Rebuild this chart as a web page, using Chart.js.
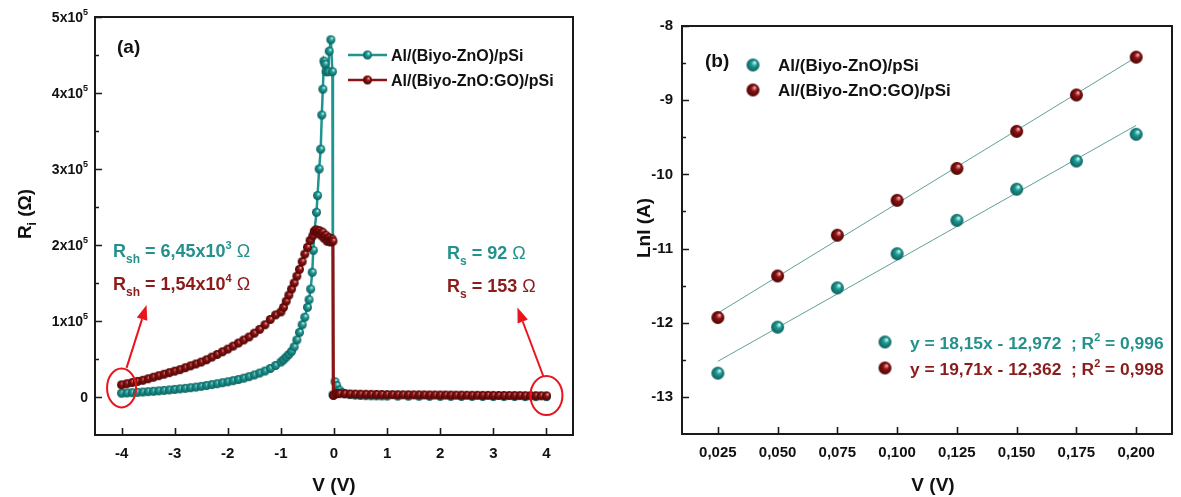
<!DOCTYPE html>
<html><head><meta charset="utf-8">
<script src="https://cdn.jsdelivr.net/npm/chart.js@4.4.0/dist/chart.umd.min.js"></script>
<style>
html,body{margin:0;padding:0;background:#fff;}
#wrap{position:relative;width:1181px;height:497px;overflow:hidden;background:#fff;}
#ca{position:absolute;left:0;top:0;}
#cb{position:absolute;left:590px;top:0;}
</style></head><body>
<div id="wrap"><canvas id="ca" width="590" height="497"></canvas><canvas id="cb" width="591" height="497"></canvas></div>
<script>
// ---------- DATA ----------
const seriesNames = ['Al/(Biyo-ZnO)/pSi', 'Al/(Biyo-ZnO:GO)/pSi'];

// Panel (a): R_i (Ohm) vs V (V)
const xTicksA = [-4,-3,-2,-1,0,1,2,3,4];
const yTicksA = [0,100000,200000,300000,400000,500000];
const vTealA = [-4.0,-3.9,-3.8,-3.7,-3.6,-3.5,-3.4,-3.3,-3.2,-3.1,-3.0,-2.9,-2.8,-2.7,-2.6,-2.5,-2.4,-2.3,-2.2,-2.1,-2.0,-1.9,-1.8,-1.7,-1.6,-1.5,-1.4,-1.3,-1.2,-1.1,-1.0,-0.95,-0.9,-0.85,-0.8,-0.75,-0.7,-0.65,-0.6,-0.55,-0.5,-0.47,-0.44,-0.41,-0.39,-0.37,-0.33,-0.31,-0.28,-0.25,-0.23,-0.21,-0.19,-0.17,-0.15,-0.11,-0.09,-0.06,-0.03,-0.02,0.02,0.05,0.1,0.15,0.2,0.3,0.4,0.5,0.6,0.7,0.8,0.9,1.0,1.2,1.4,1.6,1.8,2.0,2.2,2.4,2.6,2.8,3.0,3.2,3.4,3.6,3.8,4.0];
const rTealA = [5000,5300,5700,6100,6500,7000,7500,8100,8700,9300,10000,10700,11400,12200,13000,14000,15100,16300,17500,18800,20000,21500,23000,24800,26800,29000,31500,34200,37500,41500,46000,49000,52500,56000,60000,66000,75000,85000,95000,105000,118000,128000,142000,164000,193000,217000,243000,265000,300000,326000,371000,405000,442000,438000,428000,428000,455000,470000,428000,3000,20000,15000,9000,6000,4500,3200,2500,2000,1800,1600,1500,1400,1300,1200,1100,1000,950,900,850,800,750,700,650,600,580,560,540,520];

const vRedA = [-4.0,-3.9,-3.8,-3.7,-3.6,-3.5,-3.4,-3.3,-3.2,-3.1,-3.0,-2.9,-2.8,-2.7,-2.6,-2.5,-2.4,-2.3,-2.2,-2.1,-2.0,-1.9,-1.8,-1.7,-1.6,-1.5,-1.4,-1.3,-1.2,-1.1,-1.0,-0.95,-0.9,-0.85,-0.8,-0.75,-0.7,-0.65,-0.6,-0.55,-0.5,-0.45,-0.4,-0.37,-0.34,-0.31,-0.28,-0.25,-0.22,-0.19,-0.16,-0.13,-0.1,-0.07,-0.04,-0.02,-0.01,0.05,0.1,0.2,0.3,0.4,0.5,0.6,0.7,0.8,0.9,1.0,1.1,1.2,1.3,1.4,1.5,1.6,1.7,1.8,1.9,2.0,2.1,2.2,2.3,2.4,2.5,2.6,2.7,2.8,2.9,3.0,3.1,3.2,3.3,3.4,3.5,3.6,3.7,3.8,3.9,4.0];
const rRedA = [16000,17500,19000,20500,22000,24000,26000,28000,30000,32000,34000,36000,38500,41000,43500,46000,49000,52500,56000,59500,63000,67000,71000,75000,79000,84000,89000,95000,102000,108000,112000,118000,126000,134000,142000,150000,159000,168000,178000,188000,197000,206000,212000,218000,220000,216000,219000,213000,217000,209000,213000,205000,210000,204000,208000,205000,2000,4500,4400,4200,4000,3800,3700,3600,3500,3400,3300,3200,3100,3000,2950,2900,2850,2800,2750,2700,2650,2600,2550,2500,2450,2400,2350,2300,2250,2200,2150,2100,2050,2000,1950,1900,1850,1800,1700,1650,1600,1500];

// Panel (b): LnI (A) vs V (V)
const vB = [0.025,0.050,0.075,0.100,0.125,0.150,0.175,0.200];
const lnTealB = [-12.68,-12.06,-11.53,-11.07,-10.62,-10.20,-9.82,-9.46];
const lnRedB  = [-11.93,-11.37,-10.82,-10.35,-9.92,-9.42,-8.93,-8.42];
const fitVB = [0.025, 0.200];
const fitTealB = [-12.52, -9.34];
const fitRedB  = [-11.87, -8.42];
const eqTexts = ['y = 18,15x - 12,972  ; R', 'y = 19,71x - 12,362  ; R'];
const r2Texts = [' = 0,996', ' = 0,998'];

// ---------- STYLE ----------
const FF = "'Liberation Sans', Arial, sans-serif";
const TEAL = '#1f9590', RED = '#8b1414', TEAL_T = '#25918d', RED_T = '#8c1b1b', ARROW = '#e8161c';

function ball(r, mid, light, dark){
  const s = Math.ceil(2*r+2), cv = document.createElement('canvas');
  cv.width = cv.height = s;
  const g = cv.getContext('2d'), c = s/2;
  const gr = g.createRadialGradient(c+r*0.3, c-r*0.4, r*0.05, c, c, r);
  gr.addColorStop(0, light); gr.addColorStop(0.4, mid); gr.addColorStop(1, dark);
  g.fillStyle = gr; g.beginPath(); g.arc(c, c, r, 0, Math.PI*2); g.fill();
  return cv;
}
const ballTealA = ball(4.5, '#1e9a95', '#c8f4f0', '#0b5d5a');
const ballRedA  = ball(4.5, '#8e1212', '#f3a8a8', '#4a0404');
const ballTealB = ball(6.5, '#1e9a95', '#d6faf6', '#0b5d5a');
const ballRedB  = ball(6.5, '#8e1212', '#f6b8b8', '#4a0404');

function pts(xs, ys){ return xs.map((x,i)=>({x:x, y:ys[i]})); }

function rich(ctx, parts, x, y, align){
  let w = 0;
  parts.forEach(p=>{ ctx.font = p.f; p.w = ctx.measureText(p.t).width; w += p.w; });
  let cx = align==='right' ? x-w : align==='center' ? x-w/2 : x;
  ctx.textAlign = 'left'; ctx.textBaseline = 'alphabetic';
  parts.forEach(p=>{ ctx.font = p.f; ctx.fillStyle = p.c || '#111'; ctx.fillText(p.t, cx, y + (p.dy||0)); cx += p.w; });
  return w;
}
function frameAndTicks(ch, yMinor){
  const ctx = ch.ctx, a = ch.chartArea, xs = ch.scales.x, ys = ch.scales.y;
  ctx.save();
  ctx.strokeStyle = '#1a1a1a'; ctx.lineWidth = 2;
  ctx.strokeRect(a.left, a.top, a.right-a.left, a.bottom-a.top);
  ctx.lineWidth = 1.6;
  ctx.beginPath();
  xs.ticks.forEach(t=>{ const p = Math.round(xs.getPixelForValue(t.value))+0.5; ctx.moveTo(p, a.bottom); ctx.lineTo(p, a.bottom-7); });
  const yt = ys.ticks.map(t=>t.value);
  yt.forEach(v=>{ const p = Math.round(ys.getPixelForValue(v))+0.5; ctx.moveTo(a.left, p); ctx.lineTo(a.left+7, p); });
  if (yMinor){
    const st = yt[1]-yt[0];
    const minors = [yt[0]-st/2].concat(yt.map(v=>v+st/2));
    minors.forEach(v=>{ if (v>ys.min && v<ys.max){ const p = Math.round(ys.getPixelForValue(v))+0.5; ctx.moveTo(a.left, p); ctx.lineTo(a.left+4, p); } });
  }
  ctx.stroke();
  ctx.restore();
}
function arrow(ctx, x1, y1, x2, y2){
  const ang = Math.atan2(y2-y1, x2-x1), L = 15, W = 5.5;
  const bx = x2 - L*Math.cos(ang), by = y2 - L*Math.sin(ang);
  ctx.beginPath(); ctx.moveTo(x1, y1); ctx.lineTo(bx, by); ctx.stroke();
  ctx.beginPath(); ctx.moveTo(x2, y2);
  ctx.lineTo(bx + W*Math.sin(ang), by - W*Math.cos(ang));
  ctx.lineTo(bx - W*Math.sin(ang), by + W*Math.cos(ang));
  ctx.closePath(); ctx.fill();
}

// ---------- PANEL (a) ----------
const plugA = {
  id: 'plugA',
  afterDatasetsDraw(ch){
    const ctx = ch.ctx, a = ch.chartArea, xs = ch.scales.x, ys = ch.scales.y;
    frameAndTicks(ch, true);
    ctx.save();
    // y tick labels with superscripts
    ys.ticks.forEach(t=>{
      const p = ys.getPixelForValue(t.value);
      if (t.value === 0) rich(ctx, [{t:'0', f:'bold 14px '+FF}], a.left-7, p+5, 'right');
      else rich(ctx, [{t:Math.round(t.value/1e5)+'x10', f:'bold 14px '+FF}, {t:'5', f:'bold 9px '+FF, dy:-7}], a.left-7, p+5, 'right');
    });
    // axis titles
    rich(ctx, [{t:'V (V)', f:'bold 19px '+FF}], (a.left+a.right)/2, 491, 'center');
    ctx.save(); ctx.translate(31, 214); ctx.rotate(-Math.PI/2);
    rich(ctx, [{t:'R', f:'bold 19px '+FF}, {t:'i', f:'bold 12px '+FF, dy:5}, {t:' (\u03A9)', f:'bold 19px '+FF}], 0, 0, 'center');
    ctx.restore();
    // panel label
    rich(ctx, [{t:'(a)', f:'bold 19px '+FF}], a.left+22, 53, 'left');
    // legend
    const lg = [[TEAL, ballTealA, 0], [RED, ballRedA, 1]];
    lg.forEach((g,i)=>{
      const y = 55 + i*25, x0 = a.left+253;
      ctx.strokeStyle = g[0]; ctx.lineWidth = 2.5;
      ctx.beginPath(); ctx.moveTo(x0, y); ctx.lineTo(x0+39, y); ctx.stroke();
      ctx.drawImage(g[1], x0+19.5-g[1].width/2, y-g[1].height/2);
      rich(ctx, [{t:seriesNames[g[2]], f:'bold 16px '+FF}], x0+43, y+6, 'left');
    });
    // annotations
    const big = 'bold 18px '+FF, sub = 'bold 12px '+FF, sup = 'bold 11px '+FF, om = '18px '+FF;
    rich(ctx, [{t:'R',f:big,c:TEAL_T},{t:'sh',f:sub,c:TEAL_T,dy:6},{t:' = 6,45x10',f:big,c:TEAL_T},{t:'3',f:sup,c:TEAL_T,dy:-8},{t:' \u03A9',f:om,c:TEAL_T}], a.left+18, 257, 'left');
    rich(ctx, [{t:'R',f:big,c:RED_T},{t:'sh',f:sub,c:RED_T,dy:6},{t:' = 1,54x10',f:big,c:RED_T},{t:'4',f:sup,c:RED_T,dy:-8},{t:' \u03A9',f:om,c:RED_T}], a.left+18, 290, 'left');
    rich(ctx, [{t:'R',f:big,c:TEAL_T},{t:'s',f:sub,c:TEAL_T,dy:6},{t:' = 92 ',f:big,c:TEAL_T},{t:'\u03A9',f:om,c:TEAL_T}], a.left+352, 259, 'left');
    rich(ctx, [{t:'R',f:big,c:RED_T},{t:'s',f:sub,c:RED_T,dy:6},{t:' = 153 ',f:big,c:RED_T},{t:'\u03A9',f:om,c:RED_T}], a.left+352, 292, 'left');
    // ellipses + arrows
    ctx.strokeStyle = ARROW; ctx.fillStyle = ARROW; ctx.lineWidth = 2;
    const c1x = xs.getPixelForValue(vTealA[0]), c1y = ys.getPixelForValue(12000);
    ctx.beginPath(); ctx.ellipse(c1x, c1y, 14.5, 19.5, 0, 0, Math.PI*2); ctx.stroke();
    arrow(ctx, c1x+5, c1y-20, c1x+25, c1y-83);
    const c2x = xs.getPixelForValue(vRedA[vRedA.length-1]), c2y = ys.getPixelForValue(2000);
    ctx.beginPath(); ctx.ellipse(c2x, c2y, 16, 19.5, 0, 0, Math.PI*2); ctx.stroke();
    arrow(ctx, c2x-3, c2y-19, c2x-29, c2y-88);
    ctx.restore();
  }
};

new Chart(document.getElementById('ca'), {
  type: 'scatter',
  data: { datasets: [
    { label: seriesNames[1], data: pts(vRedA, rRedA), showLine: true, borderColor: RED, borderWidth: 3, pointStyle: ballRedA, backgroundColor: RED, order: 0 },
    { label: seriesNames[0], data: pts(vTealA, rTealA), showLine: true, borderColor: TEAL, borderWidth: 2.5, pointStyle: ballTealA, backgroundColor: TEAL, order: 1 }
  ]},
  options: {
    responsive: false, animation: false, devicePixelRatio: 1,
    layout: { padding: { left: 0, right: 17, top: 17, bottom: 0 } },
    plugins: { legend: { display: false }, tooltip: { enabled: false } },
    scales: {
      x: { type: 'linear', min: -4.5, max: 4.5,
           grid: { display: false, drawTicks: false }, border: { display: false },
           ticks: { padding: 10, color: '#111', font: { family: FF, weight: 'bold', size: 15 }, callback: v => String(v) },
           afterBuildTicks(s){ s.ticks = xTicksA.map(v=>({value:v})); },
           afterFit(s){ s.height = 62; } },
      y: { type: 'linear', min: -50000, max: 500000,
           grid: { display: false, drawTicks: false }, border: { display: false },
           ticks: { display: false },
           afterBuildTicks(s){ s.ticks = yTicksA.map(v=>({value:v})); },
           afterFit(s){ s.width = 95; } }
    }
  },
  plugins: [plugA]
});

// ---------- PANEL (b) ----------
const plugB = {
  id: 'plugB',
  afterDatasetsDraw(ch){
    const ctx = ch.ctx, a = ch.chartArea;
    frameAndTicks(ch, true);
    ctx.save();
    rich(ctx, [{t:'V (V)', f:'bold 19px '+FF}], 343, 491, 'center');
    ctx.save(); ctx.translate(60, 228); ctx.rotate(-Math.PI/2);
    rich(ctx, [{t:'LnI (A)', f:'bold 19px '+FF}], 0, 0, 'center');
    ctx.restore();
    rich(ctx, [{t:'(b)', f:'bold 19px '+FF}], 115, 67, 'left');
    const lg = [ballTealB, ballRedB];
    lg.forEach((b,i)=>{
      const y = 65 + i*25;
      ctx.drawImage(b, 163-b.width/2, y-b.height/2);
      rich(ctx, [{t:seriesNames[i], f:'bold 17px '+FF}], 188, y+6, 'left');
    });
    const cols = [TEAL_T, RED_T];
    lg.forEach((b,i)=>{
      const y = 342 + i*26;
      ctx.drawImage(b, 295-b.width/2, y-b.height/2);
      rich(ctx, [{t:eqTexts[i], f:'bold 17.4px '+FF, c:cols[i]}, {t:'2', f:'bold 11px '+FF, c:cols[i], dy:-8}, {t:r2Texts[i], f:'bold 17.4px '+FF, c:cols[i]}], 320, y+6.5, 'left');
    });
    ctx.restore();
  }
};

new Chart(document.getElementById('cb'), {
  type: 'scatter',
  data: { datasets: [
    { label: seriesNames[0], data: pts(vB, lnTealB), pointStyle: ballTealB, backgroundColor: TEAL, order: 0 },
    { label: seriesNames[1], data: pts(vB, lnRedB), pointStyle: ballRedB, backgroundColor: RED, order: 0 },
    { label: 'fit1', data: pts(fitVB, fitTealB), showLine: true, pointRadius: 0, borderColor: '#5f9f9a', borderWidth: 1, order: 1 },
    { label: 'fit2', data: pts(fitVB, fitRedB), showLine: true, pointRadius: 0, borderColor: '#5f9f9a', borderWidth: 1, order: 1 }
  ]},
  options: {
    responsive: false, animation: false, devicePixelRatio: 1,
    layout: { padding: { left: 0, right: 9, top: 26, bottom: 0 } },
    plugins: { legend: { display: false }, tooltip: { enabled: false } },
    scales: {
      x: { type: 'linear', min: 0.01, max: 0.215,
           grid: { display: false, drawTicks: false }, border: { display: false },
           ticks: { stepSize: 0.025, includeBounds: false, padding: 10, color: '#111', font: { family: FF, weight: 'bold', size: 15 },
                    callback: v => v.toFixed(3).replace('.', ',') },
           afterFit(s){ s.height = 63; } },
      y: { type: 'linear', min: -13.5, max: -8,
           grid: { display: false, drawTicks: false }, border: { display: false },
           ticks: { stepSize: 1, includeBounds: false, padding: 9, color: '#111', font: { family: FF, weight: 'bold', size: 15 } },
           afterFit(s){ s.width = 92; } }
    }
  },
  plugins: [plugB]
});
</script>
</body></html>
